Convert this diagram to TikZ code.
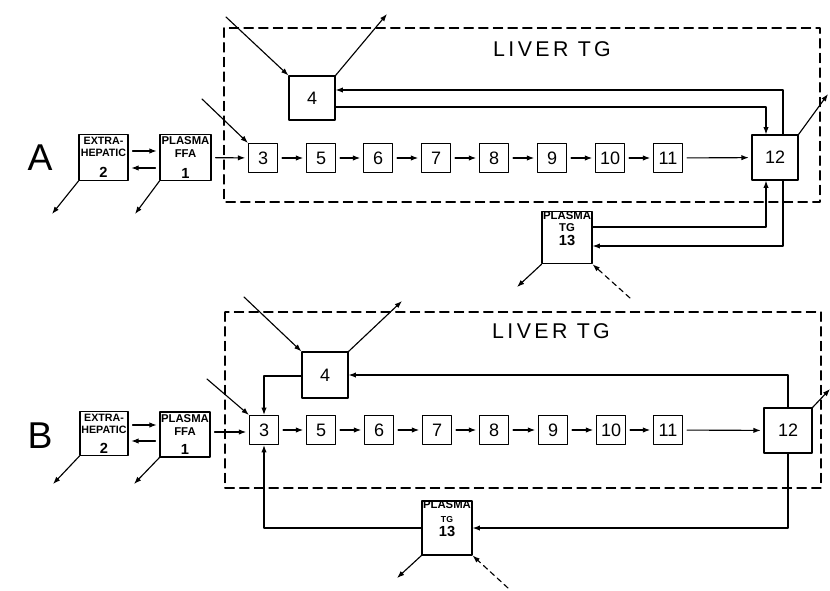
\documentclass[tikz,border=0pt]{standalone}
\usepackage{fontspec}
\setmainfont{Liberation Sans}
\newfontfamily\lettering[LetterSpace=16]{Liberation Sans}
\usetikzlibrary{arrows.meta}

\tikzset{
  box/.style={draw, line width=0.85pt, minimum width=29*0.75pt, minimum height=29*0.75pt,
    inner sep=0pt, font=\fontsize{13.5}{13.5}\selectfont},
  bigbox/.style={box, minimum width=46*0.75pt, minimum height=45*0.75pt},
  poolbox/.style={draw, line width=0.85pt, inner sep=0pt, align=center,
    minimum width=50*0.75pt, minimum height=46*0.75pt, font=\fontsize{8.5}{9.5}\selectfont\bfseries},
  flow/.style={line width=0.85pt, -{Latex[length=5.5pt,width=4pt]}},
  gapped/.style={flow, shorten <=3pt, shorten >=2pt},
  liver/.style={line width=0.85pt, dash pattern=on 7pt off 4pt},
  influx/.style={flow, dash pattern=on 4pt off 3pt},
  panel/.style={font=\fontsize{28}{28}\selectfont},
}
\newcommand{\poolnum}[1]{{\fontsize{11}{11}\selectfont #1}}

\begin{document}
\begin{tikzpicture}[x=0.75pt, y=-0.75pt, line join=round, line cap=round]
  \useasboundingbox (0,0) rectangle (830,590);

  % ---------- A ----------
  \draw[liver] (224,28) rectangle (820,202);
  \node[font=\lettering\fontsize{16}{16}\selectfont] (liverA) at (552,49) {LIVER TG};
  \node[panel] (labA) at (40,158) {A};

  \node[poolbox, minimum width=49*0.75pt, font=\fontsize{8}{9}\selectfont\bfseries] (a2) at (103.5,157.5) {EXTRA-\\HEPATIC\\[7pt]\poolnum{2}};
  \node[poolbox, minimum width=51*0.75pt] (a1) at (185.5,157.5) {PLASMA\\FFA\\[6pt]\poolnum{1}};
  \node[poolbox, minimum height=45*0.75pt] (a13) at (567,237.5) {PLASMA\\TG\\[1pt]\poolnum{13}\\[4pt]};
  \node[bigbox, minimum height=44*0.75pt] (a4) at (312,98) {4};
  \node[bigbox] (a12) at (775,157.5) {12};

  \foreach \lab/\xx in {3/263,5/321,6/378,7/436,8/494,9/552,10/610,11/668}{
    \node[box] (a\lab) at (\xx,158) {\lab};
  }
  \foreach \p/\q in {3/5,5/6,6/7,7/8,8/9,9/10,10/11}{
    \draw[gapped] (a\p) -- (a\q);
  }
  \draw[gapped] (a11) -- (a12);
  \draw[gapped] (a1) -- (a3);
  \draw[gapped] (a2.east |- 0,151) -- (a1.west |- 0,151);
  \draw[gapped] (a1.west |- 0,168) -- (a2.east |- 0,168);

  \draw[flow] (a4.east |- 0,107) -| (a12.north -| 766,0);
  \draw[flow] (a12.north -| 783,0) |- (a4.east |- 0,90);
  \draw[flow] (a13.east |- 0,227) -| (a12.south -| 766,0);
  \draw[flow] (a12.south -| 783,0) |- (a13.east |- 0,246);

  \draw[flow] (226,17) -- (a4.north west);
  \draw[flow] (a4.north east) -- (387,14);
  \draw[flow] (202,99) -- (a3.north west);
  \draw[flow] (a12.north east) -- (828,94);
  \draw[flow] (a13.south west) -- (517,287);
  \draw[influx] (630,298) -- (a13.south east);
  \draw[flow] (a2.south west) -- (52,214);
  \draw[flow] (a1.south west) -- (135,214);

  % ---------- B ----------
  \draw[liver] (225,312) rectangle (821,488);
  \node[font=\lettering\fontsize{16}{16}\selectfont] (liverB) at (551,331) {LIVER TG};
  \node[panel] (labB) at (40,436) {B};

  \node[poolbox, minimum width=48*0.75pt, minimum height=44*0.75pt, font=\fontsize{8}{9}\selectfont\bfseries] (b2) at (104,433.5) {EXTRA-\\HEPATIC\\[6pt]\poolnum{2}};
  \node[poolbox, minimum height=45*0.75pt] (b1) at (185,434.5) {PLASMA\\FFA\\[5pt]\poolnum{1}};
  \node[poolbox] (b13) at (447,528) {PLASMA\\[1pt]{\fontsize{6.5}{7}\selectfont TG}\\[1pt]\poolnum{13}\\[4pt]};
  \node[bigbox, minimum height=46*0.75pt] (b4) at (325,375) {4};
  \node[bigbox, minimum width=48*0.75pt] (b12) at (788,430.5) {12};

  \foreach \lab/\xx in {3/264,5/321,6/379,7/437,8/494,9/553,10/611,11/668}{
    \node[box] (b\lab) at (\xx,430) {\lab};
  }
  \foreach \p/\q in {3/5,5/6,6/7,7/8,8/9,9/10,10/11}{
    \draw[gapped] (b\p) -- (b\q);
  }
  \draw[gapped] (b11) -- (b12);
  \draw[gapped] (b1.east |- 0,432) -- (b3.west |- 0,432);
  \draw[gapped] (b2.east |- 0,425) -- (b1.west |- 0,425);
  \draw[gapped] (b1.west |- 0,441) -- (b2.east |- 0,441);

  \draw[flow] (b4.west |- 0,376) -| (b3.north);
  \draw[flow] (b12.north) |- (b4.east);
  \draw[flow] (b12.south) |- (b13.east);
  \draw[flow] (b13.west) -| (b3.south);

  \draw[flow] (244,297) -- (b4.north west);
  \draw[flow] (b4.north east) -- (402,301);
  \draw[flow] (207,379) -- (b3.north west);
  \draw[flow] (b12.north east) -- (830,389);
  \draw[flow] (b13.south west) -- (397,578);
  \draw[influx] (508,588) -- (b13.south east);
  \draw[flow] (b2.south west) -- (53,484);
  \draw[flow] (b1.south west) -- (134,484);
\end{tikzpicture}
\end{document}
